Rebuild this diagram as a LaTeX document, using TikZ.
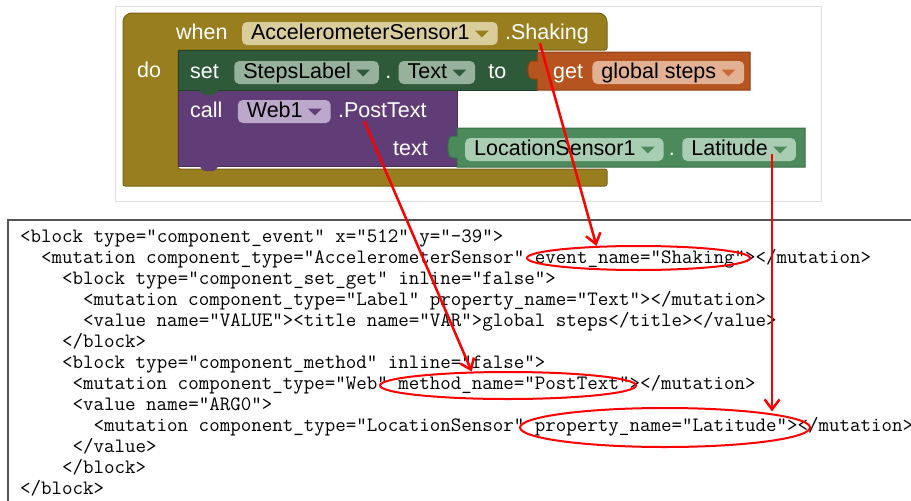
\documentclass[tikz,border=0pt]{standalone}
\usepackage{fontspec}
\newfontfamily\blkfont{Liberation Sans}
\usetikzlibrary{positioning,shapes.geometric,arrows.meta}

\definecolor{frameCol}{RGB}{222,222,222}
\definecolor{boxCol}{RGB}{85,85,85}
\definecolor{evtCol}{RGB}{153,126,31}
\definecolor{evtEdge}{RGB}{120,98,22}
\definecolor{evtFill}{RGB}{217,206,155}
\definecolor{setCol}{RGB}{46,90,58}
\definecolor{setEdge}{RGB}{32,66,42}
\definecolor{setFill}{RGB}{150,178,157}
\definecolor{getCol}{RGB}{181,84,30}
\definecolor{getEdge}{RGB}{140,62,20}
\definecolor{getFill}{RGB}{226,176,146}
\definecolor{getTri}{RGB}{205,105,55}
\definecolor{callCol}{RGB}{97,61,120}
\definecolor{callEdge}{RGB}{72,44,90}
\definecolor{callFill}{RGB}{187,168,202}
\definecolor{locCol}{RGB}{76,138,92}
\definecolor{locEdge}{RGB}{56,108,70}
\definecolor{locFill}{RGB}{168,205,178}

\tikzset{
  lbl/.style={font=\blkfont\fontsize{21.5}{21.5}\selectfont, text=white,
    inner sep=0pt, text height=15pt, text depth=4pt},
  dd/.style={lbl, text=black, rounded corners=5pt, inner xsep=9pt, inner ysep=2pt},
  codeline/.style={font=\ttfamily\fontsize{20.4}{21}\selectfont, anchor=base west, inner sep=0pt},
  oval/.style={ellipse, draw=red, line width=2pt, inner sep=0pt},
  redarrow/.style={draw=red, line width=2.5pt, -{Straight Barb[length=10pt,width=15pt]}},
}

\begin{document}
\begin{tikzpicture}[x=1pt,y=-1pt]
\useasboundingbox (0,0) rectangle (911,501);
\fill[white] (0,0) rectangle (911,501);

% screenshot of the blocks
\draw[frameCol, line width=1pt] (115,6) rectangle (821,201);
\fill[evtCol, draw=evtEdge, line width=1pt] (123,100) [rounded corners=9pt] |- (607,13)
  [rounded corners=2pt] |- (178,50) |- (607,169) |- (123,186) [rounded corners=9pt] -- cycle;
\fill[callCol, draw=callEdge, line width=1pt] (178,90) rectangle (457,166);
\fill[callCol] (199,165) [rounded corners=2pt] -- (203,171) -- (215,171) -- (219,165) -- cycle;
\fill[setCol, draw=setEdge, line width=1pt] (178,50) rectangle (537,90);
\fill[setCol] (199,89) [rounded corners=2pt] -- (203,95) -- (215,95) -- (219,89) -- cycle;
\fill[getCol, draw=getEdge, line width=1pt] (537,52) -- (750,52) -- (750,90) -- (537,90) -- (537,79)
  -- (533,79) .. controls (526,81) and (526,59) .. (533,61) -- (537,61) -- cycle;
\fill[locCol, draw=locEdge, line width=1pt] (457,128) -- (805,128) -- (805,167) -- (457,167) -- (457,158)
  -- (453,158) .. controls (446,160) and (446,134) .. (453,136) -- (457,136) -- cycle;

% block texts
\node[lbl, anchor=base west] (whenLbl) at (176,39) {when};
\node[dd, fill=evtFill, base right=14pt of whenLbl] (accDD) {AccelerometerSensor1\hspace*{19pt}};
\node[lbl, base right=7pt of accDD] (shakingLbl) {.Shaking};
\node[lbl, anchor=base west] (doLbl) at (137,77) {do};
\node[lbl, anchor=base west] (setLbl) at (190,78) {set};
\node[dd, fill=setFill, base right=15pt of setLbl] (stepsDD) {StepsLabel\hspace*{19pt}};
\node[lbl, base right=6pt of stepsDD] (dotA) {.};
\node[dd, fill=setFill, base right=7pt of dotA] (textDD) {Text\hspace*{19pt}};
\node[lbl, base right=13pt of textDD] (toLbl) {to};
\node[lbl, anchor=base west] (getLbl) at (553,78) {get};
\node[dd, fill=getFill, base right=9pt of getLbl] (getDD) {global steps\hspace*{19pt}};
\node[lbl, anchor=base west] (callLbl) at (190,117) {call};
\node[dd, fill=callFill, base right=15pt of callLbl] (webDD) {Web1\hspace*{19pt}};
\node[lbl, base right=7pt of webDD] (postLbl) {.PostText};
\node[lbl, anchor=base west] (textLbl) at (393,155) {text};
\node[dd, fill=locFill, anchor=base west] (locDD) at (465,155) {LocationSensor1\hspace*{19pt}};
\node[lbl, base right=5pt of locDD] (dotB) {.};
\node[dd, fill=locFill, base right=7pt of dotB] (latDD) {Latitude\hspace*{19pt}};
\foreach \n/\c in {accDD/evtCol, stepsDD/setCol, textDD/setCol, getDD/getTri,
    webDD/callCol, locDD/locCol, latDD/locCol}
  \fill[\c] ([xshift=-23pt,yshift=3pt]\n.east) -- ++(14,0) -- ++(-7,7) -- cycle;

% the xml
\draw[boxCol, line width=1.5pt] (915,220) -- (8,220) -- (8,505);
\foreach \n/\ind/\txt in {
  1/0/{<block type="component\_event" x="512" y="-39">},
  2/2/{<mutation component\_type="AccelerometerSensor" event\_name="Shaking"></mutation>},
  3/4/{<block type="component\_set\_get" inline="false">},
  4/6/{<mutation component\_type="Label" property\_name="Text"></mutation>},
  5/6/{<value name="VALUE"><title name="VAR">global steps</title></value>},
  6/4/{</block>},
  7/4/{<block type="component\_method" inline="false">},
  8/5/{<mutation component\_type="Web" method\_name="PostText"></mutation>},
  9/5/{<value name="ARG0">},
  10/7/{<mutation component\_type="LocationSensor" property\_name="Latitude"></mutation>},
  11/5/{</value>},
  12/4/{</block>},
  13/0/{</block>}}
  \node[codeline] (ln\n) at (20+10.5*\ind, 221+21*\n) {\txt};

% highlights
\node[oval, minimum width=223pt, minimum height=24pt] (shakeOval) at (638.5,258) {};
\node[oval, minimum width=256pt, minimum height=27pt] (postOval) at (508,385.5) {};
\node[oval, minimum width=290pt, minimum height=39pt] (latOval) at (665,427.5) {};
\draw[redarrow] ([xshift=-7pt]shakingLbl.south) -- (shakeOval.164);
\draw[redarrow] ([xshift=-18pt]postLbl.south) -- (postOval.159);
\coordinate (latStart) at ([xshift=-24pt,yshift=-4pt]latDD.east);
\draw[redarrow] (latStart) -- (latStart |- latOval.10);
\end{tikzpicture}
\end{document}
